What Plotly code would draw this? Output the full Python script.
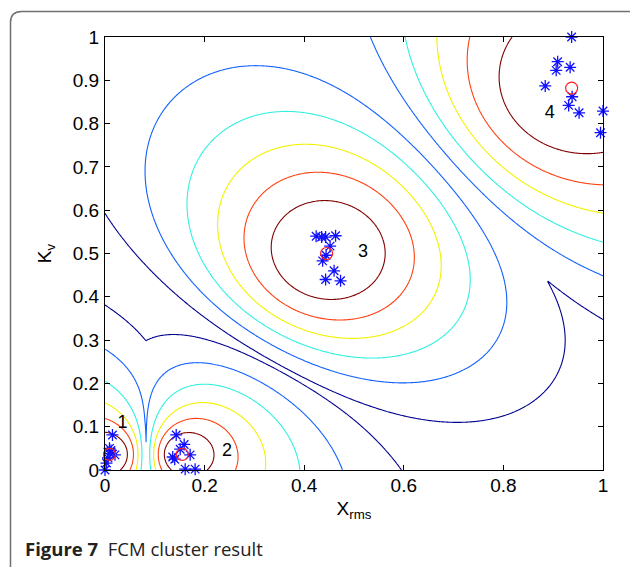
import numpy as np
import plotly.graph_objects as go

# ---- data ----
center_x = [0.009, 0.155, 0.445, 0.937]
center_y = [0.036, 0.036, 0.500, 0.882]
cluster_labels = ["1", "2", "3", "4"]
label_x = [0.035, 0.245, 0.518, 0.893]
label_y = [0.108, 0.042, 0.502, 0.823]

pts_x = [0.015, 0.009, 0.020, 0.003, 0.000, 0.010, 0.006, 0.012,
         0.143, 0.159, 0.151, 0.136, 0.140, 0.171, 0.161, 0.181,
         0.424, 0.435, 0.443, 0.463, 0.452, 0.444, 0.437, 0.460, 0.443, 0.473,
         0.937, 0.909, 0.906, 0.934, 0.884, 0.938, 0.931, 0.952, 1.000, 0.995]
pts_y = [0.081, 0.050, 0.035, 0.016, 0.000, 0.038, 0.028, 0.045,
         0.081, 0.059, 0.048, 0.030, 0.025, 0.035, 0.002, 0.002,
         0.540, 0.538, 0.538, 0.541, 0.517, 0.496, 0.483, 0.460, 0.440, 0.437,
         1.000, 0.943, 0.923, 0.930, 0.887, 0.862, 0.842, 0.825, 0.829, 0.779]

levels = [0.4, 0.5, 0.6, 0.7, 0.8, 0.9]
level_colors = ["#00008F", "#1060FF", "#30F0E0", "#F2F200", "#FF4010", "#800000"]
fuzzifier = 2.0

# ---- FCM maximum membership field from the centres ----
gx = np.linspace(0, 1, 401)
gy = np.linspace(0, 1, 401)
X, Y = np.meshgrid(gx, gy)
cx = np.array(center_x)[:, None, None]
cy = np.array(center_y)[:, None, None]
d = np.sqrt((X - cx) ** 2 + (Y - cy) ** 2) + 1e-9
p = 2.0 / (fuzzifier - 1.0)
U = 1.0 / (d ** p * np.sum(1.0 / d ** p, axis=0))
Z = U.max(axis=0)

fig = go.Figure()
for lv, col in zip(levels, level_colors):
    fig.add_trace(go.Contour(
        x=gx, y=gy, z=Z,
        contours=dict(start=lv, end=lv, size=0.1, coloring="none"),
        line=dict(color=col, width=1.1),
        showscale=False, hoverinfo="skip", autocontour=False,
    ))

fig.add_trace(go.Scatter(
    x=pts_x, y=pts_y, mode="markers",
    marker=dict(symbol="asterisk-open", size=10, color="#1010FF",
                line=dict(color="#1010FF", width=1.3)),
    showlegend=False, cliponaxis=False,
))
fig.add_trace(go.Scatter(
    x=center_x, y=center_y, mode="markers",
    marker=dict(symbol="circle-open", size=12, color="#FF2020",
                line=dict(color="#FF2020", width=1.2)),
    showlegend=False, cliponaxis=False,
))
fig.add_trace(go.Scatter(
    x=label_x, y=label_y, mode="text", text=cluster_labels,
    textfont=dict(family="Liberation Sans, Arial", size=18, color="black"),
    showlegend=False, cliponaxis=False,
))

L, R, T, B = 105, 27, 37, 97
W, H = 630, 567
pw, ph = W - L - R, H - T - B

def px(xp):
    return (xp - L) / pw

def py(yp):
    return (H - B - yp) / ph

# rounded frame
x0, y0, x1, y1, r = 10.5, 11.5, 640, 580, 11
path = (f"M {px(x0)},{py(y0 + r)} Q {px(x0)},{py(y0)} {px(x0 + r)},{py(y0)} "
        f"L {px(x1)},{py(y0)} L {px(x1)},{py(y1)} L {px(x0)},{py(y1)} Z")
fig.add_shape(type="path", path=path, xref="paper", yref="paper",
              line=dict(color="#707070", width=1.5), layer="below")

axis_common = dict(range=[0, 1], showgrid=False, zeroline=False,
                   showline=True, linecolor="black", linewidth=1.2,
                   mirror="ticks", ticks="inside", ticklen=5, tickcolor="black",
                   tickfont=dict(family="Liberation Sans, Arial", size=19, color="black"))

fig.update_layout(
    width=W, height=H,
    margin=dict(l=L, r=R, t=T, b=B),
    paper_bgcolor="white", plot_bgcolor="white",
    xaxis=dict(**axis_common, tickvals=[0, 0.2, 0.4, 0.6, 0.8, 1],
               ticktext=["0", "0.2", "0.4", "0.6", "0.8", "1"],
               ticklabelstandoff=-2,
               title=dict(text="X<sub>rms</sub>", standoff=6,
                          font=dict(family="Liberation Sans, Arial", size=19, color="black"))),
    yaxis=dict(**axis_common, tickvals=[0, 0.1, 0.2, 0.3, 0.4, 0.5, 0.6, 0.7, 0.8, 0.9, 1],
               ticktext=["0", "0.1", "0.2", "0.3", "0.4", "0.5", "0.6", "0.7", "0.8", "0.9", "1"],
               ticklabelstandoff=1,
               title=dict(text="K<sub>v</sub>", standoff=16,
                          font=dict(family="Liberation Sans, Arial", size=19, color="black"))),
    showlegend=False,
)

fig.add_annotation(xref="paper", yref="paper", x=px(23), y=py(548),
                   xanchor="left", yanchor="middle", showarrow=False,
                   text="<b>Figure 7</b>&nbsp;&nbsp;FCM cluster result",
                   font=dict(family="Open Sans, Noto Sans", size=18.5, color="#222222"))

fig.write_html("out.html", config={"displayModeBar": False},
               post_script="document.body.style.margin='0';")
